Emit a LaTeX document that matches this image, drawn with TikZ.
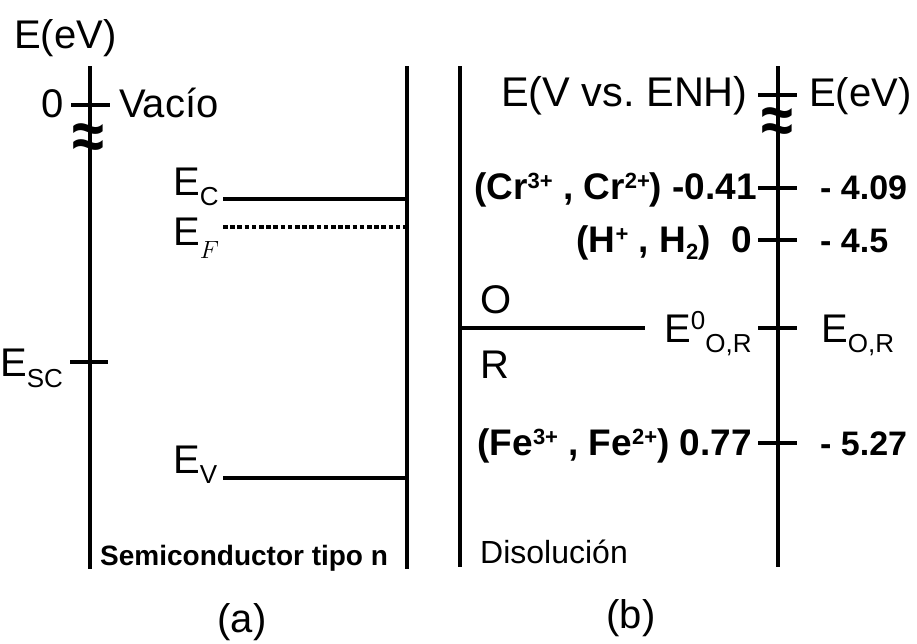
\documentclass[tikz,border=0pt]{standalone}
\usepackage{fontspec}
\setmainfont{Liberation Sans}
\newcommand{\fsz}[1]{\fontsize{#1}{#1}\selectfont}
\newcommand{\lowr}[3]{\raisebox{-#1pt}{\fsz{#2}#3}}
\newcommand{\upr}[3]{\raisebox{#1pt}{\fsz{#2}#3}}
\begin{document}
\begin{tikzpicture}[x=1pt,y=-1pt,
  lbl/.style={inner sep=0pt, anchor=base west, font=\fsz{40}},
  lbr/.style={inner sep=0pt, anchor=base east, font=\fsz{40}},
  bl/.style={inner sep=0pt, anchor=base west, font=\fsz{34}\bfseries},
  br/.style={inner sep=0pt, anchor=base east, font=\fsz{37}\bfseries},
  axisline/.style={line width=4.3pt},
  levelline/.style={line width=3.8pt},
  tickline/.style={line width=3.8pt},
  approx/.style={inner sep=0pt, font=\fsz{40}\bfseries}]
\useasboundingbox (0,0) rectangle (917,643);

% ---------- (a) semiconductor ----------
\coordinate (La1) at (90,66);   \coordinate (La2) at (90,569);
\coordinate (Ra1) at (407,66);  \coordinate (Ra2) at (407,569);
\draw[axisline] (La1) -- (La2);
\draw[axisline] (Ra1) -- (Ra2);

\node[lbl] (Eev) at (14,48) {E(eV)};
\coordinate (t0a) at (71,105); \coordinate (t0b) at (110,105);
\draw[tickline] (t0a) -- (t0b);
\node[lbr] (zero) at (64,117) {0};
\node[lbl] (vac) at (119,117) {Vacío};
\node[approx] (apL) at (88,142) {\scalebox{1.45}[1.7]{≈}};

\coordinate (ECa) at (223,199); \coordinate (ECb) at (407,199);
\draw[levelline] (ECa) -- (ECb);
\node[lbl] (EC) at (173,195) {E\lowr{10}{26}{C}};

\coordinate (EFa) at (223,227); \coordinate (EFb) at (407,227);
\draw[line width=3.8pt, dash pattern=on 4.5pt off 2.7pt] (EFa) -- (EFb);
\node[lbl] (EF) at (173,245) {E\lowr{13}{29}{$F$}};

\coordinate (tSa) at (70,362); \coordinate (tSb) at (108,362);
\draw[tickline] (tSa) -- (tSb);
\node[lbl] (ESC) at (0,376) {E\lowr{11}{26}{SC}};

\coordinate (EVa) at (223,478); \coordinate (EVb) at (407,478);
\draw[levelline] (EVa) -- (EVb);
\node[lbl] (EV) at (173,473) {E\lowr{10}{26}{V}};

\node[inner sep=0pt, anchor=base west, font=\fsz{28}\bfseries] (sc) at (100,565) {Semiconductor tipo n};
\node[inner sep=0pt, font=\fsz{40}] (la) at (242,622) {(a)};

% ---------- (b) solution ----------
\coordinate (Lb1) at (460,66);  \coordinate (Lb2) at (460,567);
\coordinate (Rb1) at (778,66);  \coordinate (Rb2) at (778,567);
\draw[axisline] (Lb1) -- (Lb2);
\draw[axisline] (Rb1) -- (Rb2);

\coordinate (tTa) at (758,95); \coordinate (tTb) at (797,95);
\draw[tickline] (tTa) -- (tTb);
\node[lbr, font=\fsz{41.5}] (ENH) at (748,106) {E(V vs.\ ENH)};
\node[lbl] (EevR) at (809,106) {E(eV)};
\node[approx] (apR) at (777,126) {\scalebox{1.45}[1.7]{≈}};

\coordinate (tCra) at (758,188); \coordinate (tCrb) at (797,188);
\draw[tickline] (tCra) -- (tCrb);
\node[br] (Cr) at (757,199) {(Cr\upr{11}{22}{3+} , Cr\upr{11}{22}{2+}) -0.41};
\node[bl] (Cre) at (820,199) {- 4.09};

\coordinate (tHa) at (758,240); \coordinate (tHb) at (797,240);
\draw[tickline] (tHa) -- (tHb);
\node[br] (H) at (752,252) {(H\upr{11}{22}{+} , H\lowr{7}{22}{2})\ \ 0};
\node[bl] (He) at (820,252) {- 4.5};

\coordinate (ORa) at (460,328); \coordinate (ORb) at (645,328);
\draw[levelline] (ORa) -- (ORb);
\node[lbl] (O) at (480,313) {O};
\node[lbl] (R) at (480,378) {R};
\coordinate (tOa) at (758,328); \coordinate (tOb) at (797,328);
\draw[tickline] (tOa) -- (tOb);
\node[lbl] (E0) at (664,342) {E\upr{13}{26}{0}\lowr{10}{26}{O,R}};
\node[lbl] (EOR) at (821,342) {E\lowr{10}{26}{O,R}};

\coordinate (tFa) at (758,443); \coordinate (tFb) at (797,443);
\draw[tickline] (tFa) -- (tFb);
\node[br] (Fe) at (752,455) {(Fe\upr{11}{22}{3+} , Fe\upr{11}{22}{2+}) 0.77};
\node[bl] (Fee) at (820,455) {- 5.27};

\node[inner sep=0pt, anchor=base west, font=\fsz{32}] (dis) at (480,563) {Disolución};
\node[inner sep=0pt, font=\fsz{40}] (lb) at (631,618) {(b)};
\end{tikzpicture}
\end{document}
